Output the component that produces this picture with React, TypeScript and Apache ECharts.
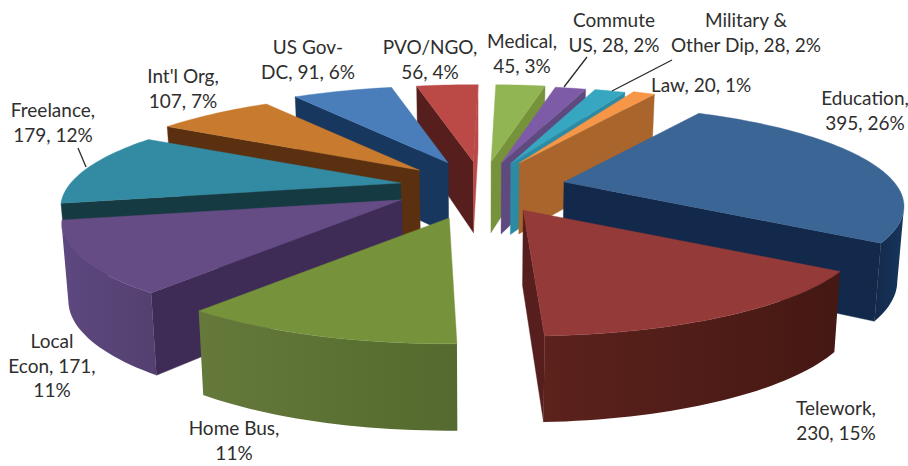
import React, { useEffect, useRef } from "react";
import * as echarts from "echarts";

// Clockwise from the top of the pie
const names = ["Medical", "Commute US", "Military & Other Dip", "Law", "Education", "Telework", "Home Bus", "Local Econ", "Freelance", "Int'l Org", "US Gov-DC", "PVO/NGO"];
const values = [45, 28, 28, 20, 395, 230, 170, 171, 179, 107, 91, 56];
const explosionX = [0.31, 0.28, 0.29, 0.3, 0.27, 0.2, 0.25, 0.25, 0.26, 0.305, 0.32, 0.33];
const explosionY = [0.316, 0.307, 0.31, 0.33, 0.19, 0.23, 0.27, 0.24, 0.19, 0.28, 0.32, 0.316];
const startTrim = [0, 0, 0, 0, 0, 0.5, 1.3, 0, 0, 0, 0, 0];
const endTrim = [0, 0, 0, 0, -0.5, 0.5, 0, 0, 0, 0, 0, 0];
const paintOrder = [0, 1, 2, 3, 11, 10, 9, 8, 4, 7, 6, 5];
const topColors = ["#92b553", "#7d5ba6", "#37a6c0", "#f79646", "#3b6595", "#943b39", "#76933c", "#654c85", "#328aa3", "#c87b2f", "#4a7ebb", "#bb4a47"];
const endWallColors = ["#76933c", "#5f4a80", "#2c8ba3", "#a9652b", "#13294b", "#561e1c", "#5d7032", "#3f2c56", "#163a42", "#5a3010", "#17375e", "#bb4a47"];
const startWallColors = ["#76933c", "#5f4a80", "#2c8ba3", "#a9652b", "#13294b", "#561e1c", "#5d7032", "#3f2c56", "#163a42", "#5a3010", "#17375e", "#561e1c"];
const rimColors: [string, string][] = [
  ["#76933c", "#76933c"], ["#5f4a80", "#5f4a80"], ["#2c8ba3", "#2c8ba3"], ["#a9652b", "#a9652b"],
  ["#13294b", "#17355c"], ["#5c221c", "#451813"], ["#64793a", "#546a2e"], ["#5d4880", "#54406f"],
  ["#163a42", "#163a42"], ["#5a3010", "#5a3010"], ["#17375e", "#17375e"], ["#561e1c", "#561e1c"],
];

const labelTexts = [
  "Education,\n395, 26%", "Telework,\n230, 15%", "Home Bus,\n11%", "Local\nEcon, 171,\n11%",
  "Freelance,\n179, 12%", "Int'l Org,\n107, 7%", "US Gov-\nDC, 91, 6%", "PVO/NGO,\n56, 4%",
  "Medical,\n45, 3%", "Commute\nUS, 28, 2%", "Military &\nOther Dip, 28, 2%", "Law, 20, 1%",
];
const labelCenters = [
  [865, 110], [836, 420], [234, 440], [52, 365], [53, 122], [183, 88], [308, 59], [430, 59],
  [522, 53], [614, 32], [746, 32], [701, 84],
];
const leaderLines = [[78, 148, 86, 167], [587, 57, 564, 87], [672, 60, 612, 91]];

const startAngle = 1;
const CX = 482, CY = 186, RX = 330, RY = 95.6, PERSP = 0.241;
const rad = (d: number) => (d * Math.PI) / 180;
const total = values.reduce((a, b) => a + b, 0);

const rimOffset = (deg: number) => {
  const s = Math.sin(rad(deg)), c = Math.cos(rad(deg));
  const k = 1 + PERSP * c;
  return [(RX * s) / k, (-RY * c) / k];
};
const drop = (p: number[]) => {
  const h = 71 + 0.087 * (p[1] - 162);
  return [p[0] + (CX - p[0]) * 0.016, p[1] + h];
};
const area = (pts: number[][]) => {
  let a = 0;
  pts.forEach((p, i) => {
    const q = pts[(i + 1) % pts.length];
    a += p[0] * q[1] - q[0] * p[1];
  });
  return a / 2;
};

const sliceAngles = values.map((_, i) => {
  const before = values.slice(0, i).reduce((a, b) => a + b, 0);
  const a = startAngle + (before / total) * 360;
  return [a, a + (values[i] / total) * 360];
});

const poly = (points: number[][], fill: any) => ({
  type: "polygon",
  shape: { points },
  style: { fill, stroke: typeof fill === "string" ? fill : undefined, lineWidth: 0.4 },
});

function renderItem(_: any, api: any) {
  const i = api.value(0);
  const a0 = sliceAngles[i][0], b0 = sliceAngles[i][1];
  const m = rimOffset((a0 + b0) / 2);
  const a = a0 + startTrim[i], b = b0 - endTrim[i];
  const tip = [CX + explosionX[i] * m[0], CY + explosionY[i] * m[1]];
  const at = (deg: number) => {
    const o = rimOffset(deg);
    return [tip[0] + o[0], tip[1] + o[1]];
  };
  const arcPts: number[][] = [];
  const steps = Math.max(4, Math.ceil((b - a) / 1.5));
  for (let k = 0; k <= steps; k++) arcPts.push(at(a + ((b - a) * k) / steps));
  const children: any[] = [];

  const startWall = [tip, arcPts[0], drop(arcPts[0]), drop(tip)];
  if (area(startWall) < 0) children.push(poly(startWall, startWallColors[i]));
  const endRim = arcPts[arcPts.length - 1];
  const endWall = [tip, endRim, drop(endRim), drop(tip)];
  if (area(endWall) > 0) children.push(poly(endWall, endWallColors[i]));

  // Outer wall: only the part of the rim that faces the viewer
  const visible: number[][] = [];
  for (let k = 0; k <= steps; k++) {
    const deg = a + ((b - a) * k) / steps;
    if (Math.cos(rad(deg)) < -PERSP) visible.push(at(deg));
  }
  if (visible.length > 1) {
    const xs = visible.map((p) => p[0]);
    const fill = new echarts.graphic.LinearGradient(0, 0, 1, 0, [
      { offset: 0, color: rimColors[i][0] },
      { offset: 1, color: rimColors[i][1] },
    ]);
    if (Math.max(...xs) > Math.min(...xs)) {
      children.push(poly([...visible, ...visible.map(drop).reverse()], fill));
    }
  }
  children.push(poly([tip, ...arcPts], topColors[i]));
  return { type: "group", children };
}

export default function App() {
  const ref = useRef<HTMLDivElement>(null);
  useEffect(() => {
    const chart = echarts.init(ref.current!, undefined, { renderer: "svg" });
    chart.setOption({
      animation: false,
      backgroundColor: "#ffffff",
      series: [
        {
          type: "custom",
          coordinateSystem: "none",
          renderItem,
          silent: true,
          data: paintOrder.map((i) => ({ name: names[i], value: [i, values[i]] })),
        },
      ],
      graphic: [
        ...leaderLines.map((l) => ({
          type: "line",
          z: 20,
          shape: { x1: l[0], y1: l[1], x2: l[2], y2: l[3] },
          style: { stroke: "#2b2b2b", lineWidth: 1.3 },
        })),
        ...labelTexts.map((t, i) => ({
          type: "text",
          z: 20,
          x: labelCenters[i][0],
          y: labelCenters[i][1],
          style: {
            text: t,
            fill: "#2e2e2e",
            font: '19px Lato, "Open Sans", sans-serif',
            lineHeight: 24.5,
            align: "center",
            verticalAlign: "middle",
          },
        })),
      ],
    });
    return () => chart.dispose();
  }, []);
  return <div ref={ref} style={{ position: "absolute", left: 0, top: 0, width: 908, height: 466 }} />;
}
